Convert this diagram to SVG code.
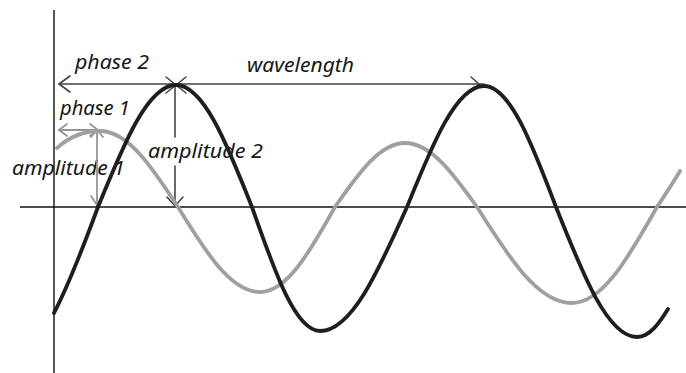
<svg xmlns="http://www.w3.org/2000/svg" width="686" height="373" viewBox="0 0 686 373">
<style>
.lbl{font-family:"Noto Sans","DejaVu Sans",sans-serif;font-style:italic;font-size:20px;fill:#161616}
.wave{fill:none;stroke-width:3.8;stroke-linecap:round;stroke-linejoin:round}
.dark{stroke:#1e1e1e}
.grey{stroke:#a0a0a0}
.ad{fill:none;stroke:#444;stroke-width:1.6;stroke-linecap:round;stroke-linejoin:round}
.ag{fill:none;stroke:#959595;stroke-width:1.8;stroke-linecap:round;stroke-linejoin:round}
</style>
<rect width="686" height="373" fill="#fff"/>
<g id="axes">
<line x1="54" y1="10" x2="54" y2="373" stroke="#555" stroke-width="2"/>
<line x1="20" y1="207" x2="686" y2="207" stroke="#111" stroke-width="1.4"/>
</g>
<g id="labels">
<text class="lbl" x="75" y="69" textLength="74" lengthAdjust="spacingAndGlyphs">phase 2</text>
<text class="lbl" x="247" y="72" textLength="107" lengthAdjust="spacingAndGlyphs">wavelength</text>
<text class="lbl" x="60" y="115" textLength="70" lengthAdjust="spacingAndGlyphs">phase 1</text>
<text class="lbl" x="148" y="158" textLength="115" lengthAdjust="spacingAndGlyphs">amplitude 2</text>
<text class="lbl" x="12" y="175" textLength="113" lengthAdjust="spacingAndGlyphs">amplitude 1</text>
</g>
<g id="connectors">
<g id="phase2-wavelength">
<line class="ad" x1="59" y1="84" x2="484" y2="84"/>
<path class="ad" d="M70,76 L59,84 L70,92"/>
<path class="ad" d="M166,77 L176,85 L166,93"/>
<path class="ad" d="M186,77 L176,85 L186,93"/>
<path class="ad" d="M471,77 L479,84 L471,92"/>
</g>
<g id="amplitude2">
<line class="ad" x1="175" y1="85" x2="175" y2="137"/>
<line class="ad" x1="175" y1="166" x2="175" y2="206"/>
<path class="ad" d="M167,197 L175,206 L183,197"/>
</g>
<g id="phase1">
<line class="ag" x1="59" y1="130" x2="98" y2="130"/>
<path class="ag" d="M67,124 L59,130 L67,136"/>
<path class="ag" d="M90,124 L98,130 L90,136"/>
</g>
<g id="amplitude1">
<line class="ag" x1="97" y1="130" x2="97" y2="205"/>
<path class="ag" d="M91,137 L97,130 L103,137"/>
<path class="ag" d="M91,196 L97,205 L103,196"/>
</g>
</g>
<g id="wave1">
<path class="wave grey" d="M57,148 C68,138 82,131 100,131 C128.1,131 151.9,167.1 178,207 C205.4,251.6 230.5,292 260,292 C287,292 309.9,251.6 335,207 C358.4,173.4 379.8,143 405,143 C430.9,143 452.9,173.4 477,207 C508.8,257.4 537.8,303 572,303 C602.6,303 628.6,257.4 657,207 C665,195 673,183 680,171"/>
</g>
<g id="wave2">
<path class="wave dark" d="M54,313 C66,290 84,245 98,207 C124.1,142.9 147.9,85 176,85 C203.4,85 226.6,142.9 252,207 C274.7,272.1 295.5,331 320,331 C351.3,331 377.9,272.1 407,207 C432.7,143.5 456.3,86 484,86 C509.9,86 531.9,143.5 556,207 C583.1,275.3 607.8,337 637,337 C650,337 660,322 668,309"/>
</g>
</svg>
